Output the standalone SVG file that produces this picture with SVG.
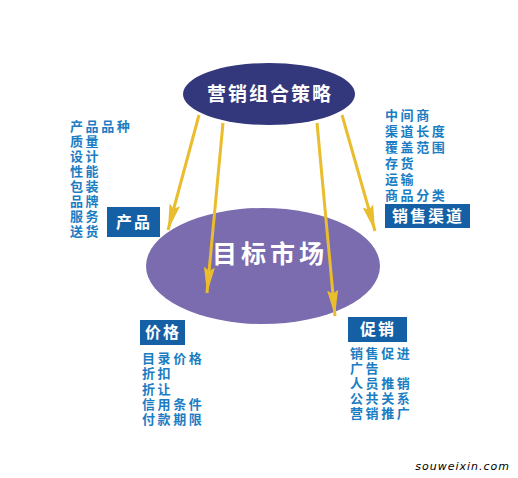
<svg xmlns="http://www.w3.org/2000/svg" width="518" height="478" viewBox="0 0 518 478">
<defs>
<marker id="ah" markerUnits="userSpaceOnUse" markerWidth="28" markerHeight="12" refX="26" refY="6" orient="auto">
<path d="M0,0.5 L26,6 L0,11.5 L4,6 z" fill="#E9BD2E"/>
</marker>
<style>
.conn{stroke:#E9BD2E;stroke-width:3;fill:none;marker-end:url(#ah)}
.lst{font-family:"Noto Sans CJK SC","Noto Sans CJK JP",sans-serif;font-weight:bold;font-size:13px;fill:#1A7DC4;letter-spacing:2.6px}
.box{fill:#155FA5}
.bt{font-family:"Noto Sans CJK SC","Noto Sans CJK JP",sans-serif;font-weight:bold;font-size:16px;fill:#FFFFFF;letter-spacing:2px}
</style>
</defs>
<rect width="518" height="478" fill="#FFFFFF"/>
<g id="target">
<ellipse cx="263" cy="266" rx="117" ry="58" fill="#7A6CAE"/>
<text x="270" y="263" text-anchor="middle" font-family="Noto Sans CJK SC, Noto Sans CJK JP, sans-serif" font-weight="bold" font-size="25" fill="#FFFFFF" letter-spacing="4">目标市场</text>
</g>
<g id="strategy">
<ellipse cx="269" cy="94" rx="86" ry="31" fill="#33377B"/>
<text x="270" y="101" text-anchor="middle" font-family="Noto Sans CJK SC, Noto Sans CJK JP, sans-serif" font-weight="bold" font-size="19" fill="#FFFFFF" letter-spacing="2">营销组合策略</text>
</g>
<g id="connectors">
<line class="conn" x1="199" y1="115" x2="168" y2="230"/>
<line class="conn" x1="223" y1="123" x2="207" y2="293"/>
<line class="conn" x1="317" y1="123" x2="335" y2="316"/>
<line class="conn" x1="342" y1="115" x2="375" y2="231"/>
</g>
<g id="product">
<rect class="box" x="107" y="207" width="53" height="30"/>
<text class="bt" x="134" y="228" text-anchor="middle">产品</text>
<text class="lst" x="70" y="131">产品品种</text>
<text class="lst" x="70" y="146">质量</text>
<text class="lst" x="70" y="161">设计</text>
<text class="lst" x="70" y="176">性能</text>
<text class="lst" x="70" y="191">包装</text>
<text class="lst" x="70" y="206">品牌</text>
<text class="lst" x="70" y="221">服务</text>
<text class="lst" x="70" y="236">送货</text>
</g>
<g id="channel">
<rect class="box" x="385" y="204" width="85" height="24"/>
<text class="bt" x="428" y="222" text-anchor="middle">销售渠道</text>
<text class="lst" x="385" y="120">中间商</text>
<text class="lst" x="385" y="136">渠道长度</text>
<text class="lst" x="385" y="152">覆盖范围</text>
<text class="lst" x="385" y="168">存货</text>
<text class="lst" x="385" y="184">运输</text>
<text class="lst" x="385" y="200">商品分类</text>
</g>
<g id="price">
<rect class="box" x="140" y="320" width="45" height="25"/>
<text class="bt" x="163" y="338" text-anchor="middle">价格</text>
<text class="lst" x="142" y="363">目录价格</text>
<text class="lst" x="142" y="378">折扣</text>
<text class="lst" x="142" y="394">折让</text>
<text class="lst" x="142" y="409">信用条件</text>
<text class="lst" x="142" y="424">付款期限</text>
</g>
<g id="promotion">
<rect class="box" x="348" y="317" width="59" height="25"/>
<text class="bt" x="378" y="335" text-anchor="middle">促销</text>
<text class="lst" x="350" y="358">销售促进</text>
<text class="lst" x="350" y="373">广告</text>
<text class="lst" x="350" y="388">人员推销</text>
<text class="lst" x="350" y="403">公共关系</text>
<text class="lst" x="350" y="418">营销推广</text>
</g>
<text x="510" y="470" text-anchor="end" font-family="DejaVu Sans, sans-serif" font-style="italic" font-size="11" fill="#000000" letter-spacing="1">souweixin.com</text>
</svg>
